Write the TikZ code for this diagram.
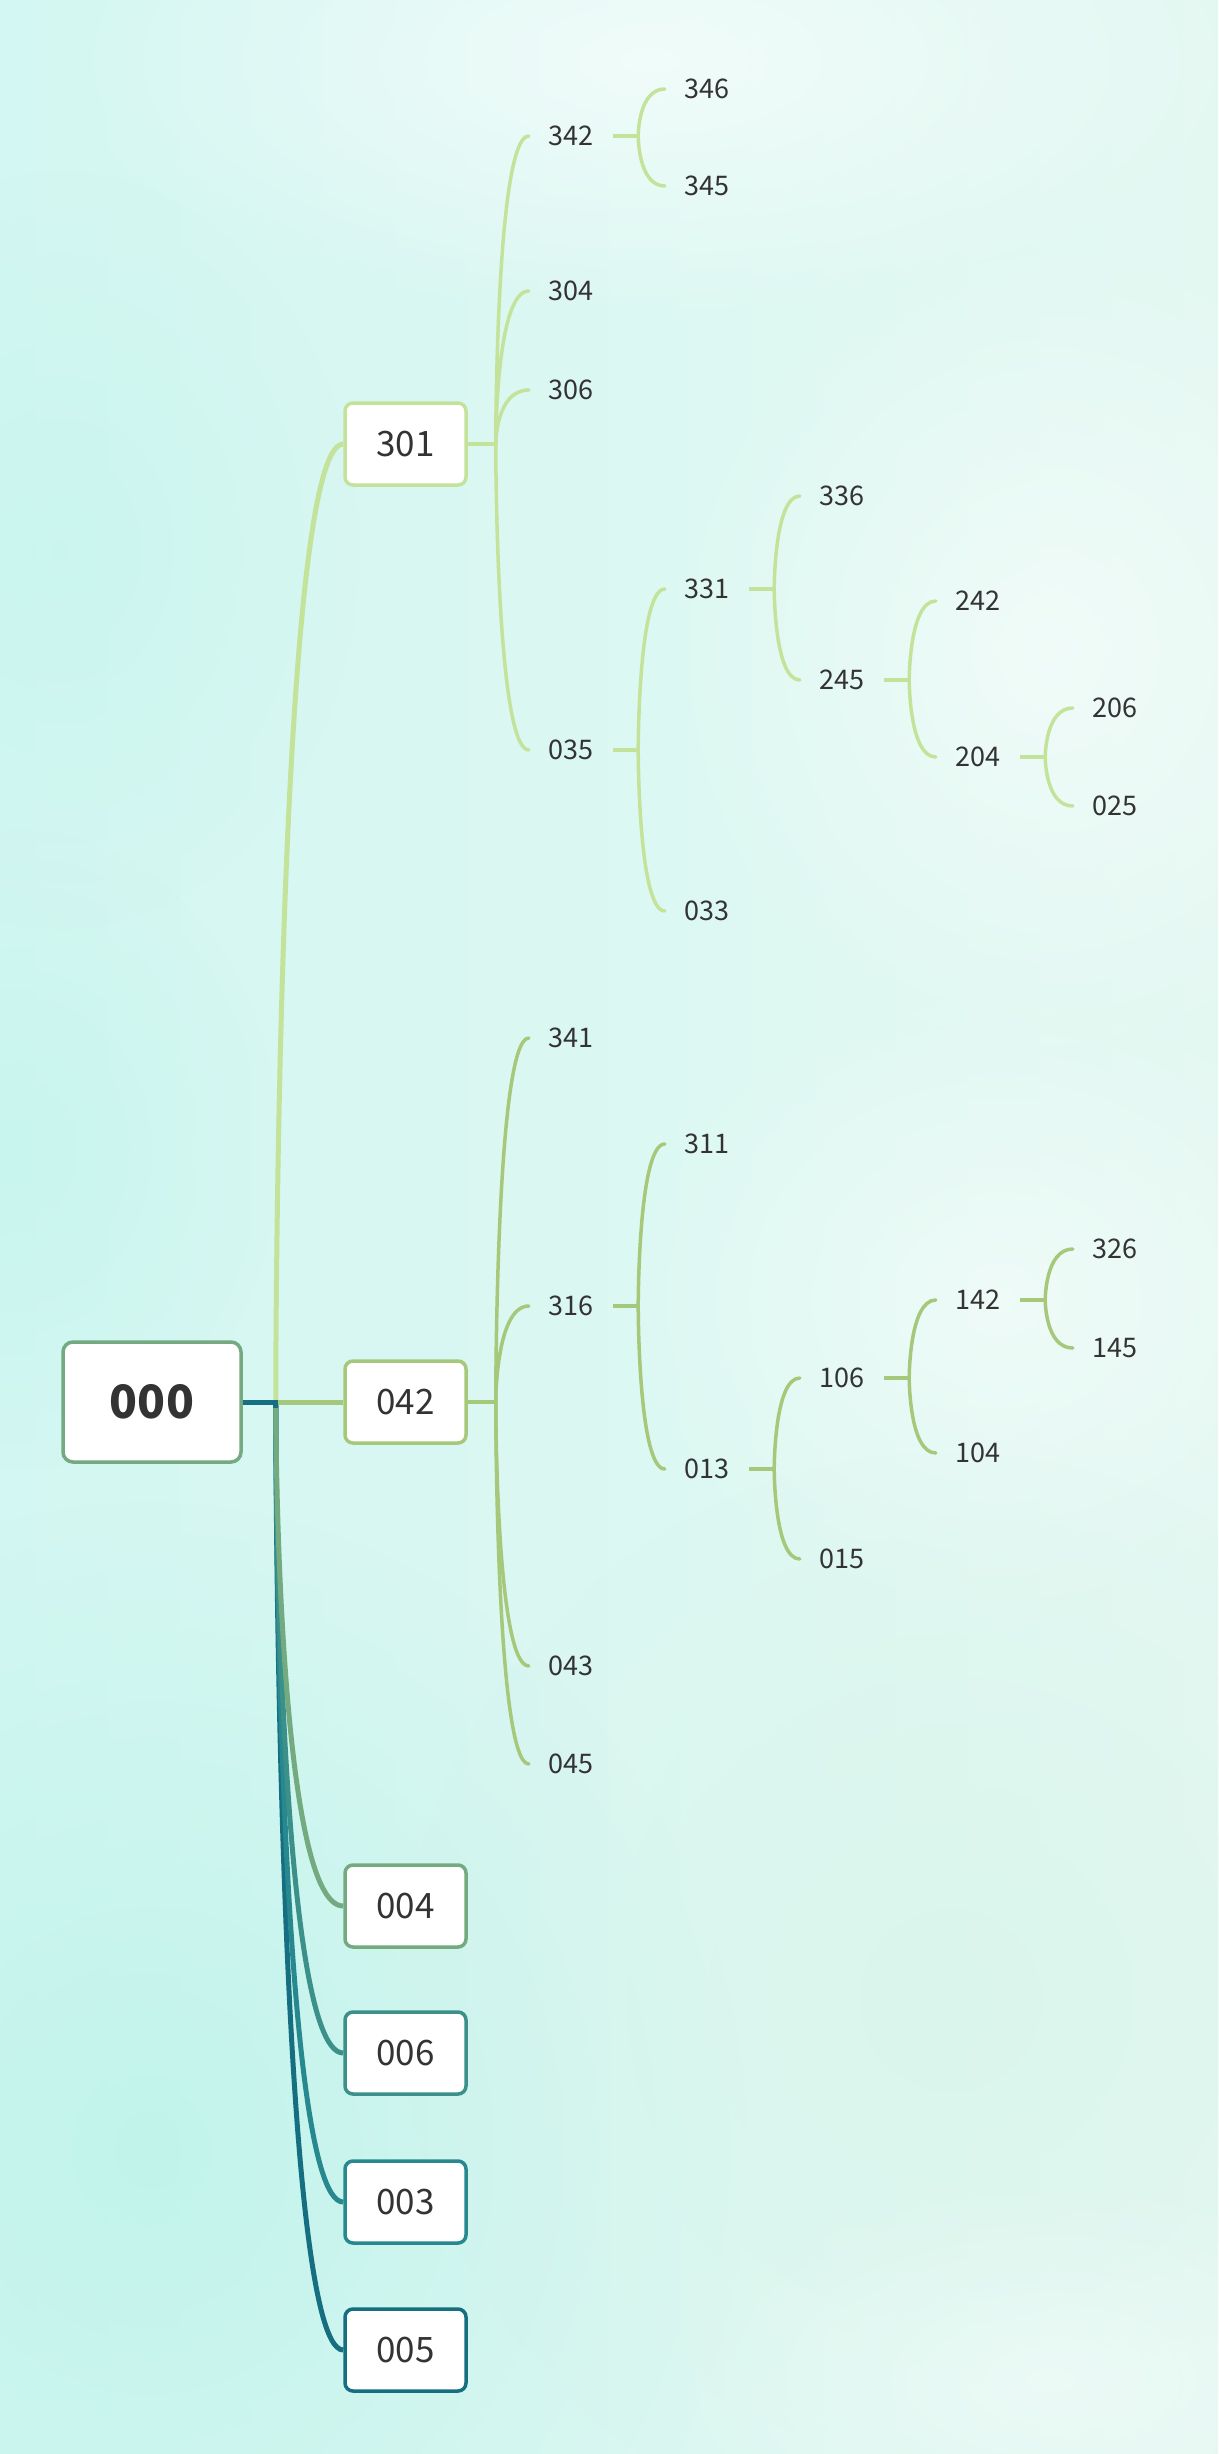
\documentclass[tikz,border=0pt]{standalone}
\usepackage{fontspec}
\setmainfont{Noto Sans CJK SC}
\usetikzlibrary{calc,fadings}
\tikzfading[name=softblob, inner color=transparent!0, outer color=transparent!100]
\definecolor{txt}{HTML}{333333}
\definecolor{cRoot}{HTML}{74A981}
\definecolor{cA}{HTML}{C4E39A}
\definecolor{cB}{HTML}{A6C87A}
\definecolor{cC}{HTML}{74AA80}
\definecolor{cD}{HTML}{3B9089}
\definecolor{cE}{HTML}{28888F}
\definecolor{cF}{HTML}{166F80}
\definecolor{bgL}{HTML}{D3F7F2}
\definecolor{bgR}{HTML}{E4F8F2}
\definecolor{bgCyan}{HTML}{BDF3EA}
\definecolor{bgMint}{HTML}{D6F4E8}
\begin{document}
\begin{tikzpicture}[x=1pt,y=-1pt,
  lbl/.style={text=txt, font=\fontsize{27}{27}\selectfont, minimum width=84pt, inner sep=0pt},
  topbox/.style={draw=#1, line width=3.5pt, rounded corners=8pt, fill=white, minimum width=121pt, minimum height=82pt, inner sep=0pt, text=txt, font=\fontsize{35}{35}\selectfont},
  rootbox/.style={draw=cRoot, line width=3.5pt, rounded corners=10pt, fill=white, minimum width=178pt, minimum height=120pt, inner sep=0pt, text=txt, font=\fontsize{46}{46}\selectfont\bfseries},
  mainlink/.style={line width=5pt, draw=#1},
  sublink/.style={line width=3.5pt, draw=#1, line cap=round},
  blob/.style={fill=#1, path fading=softblob}
]
\useasboundingbox (0,0) rectangle (1218,2454);
% background
\shade[left color=bgL, right color=bgR] (0,0) rectangle (1218,2454);
\fill[blob=white, opacity=0.6] (650,60) ellipse (600pt and 260pt);
\fill[blob=white, opacity=0.5] (1050,650) ellipse (380pt and 420pt);
\fill[blob=white, opacity=0.45] (1000,1300) ellipse (380pt and 320pt);
\fill[blob=bgCyan, opacity=0.8] (150,2150) ellipse (600pt and 650pt);
\fill[blob=bgCyan, opacity=0.5] (20,1150) ellipse (260pt and 320pt);
\fill[blob=bgCyan, opacity=0.4] (60,550) ellipse (300pt and 380pt);
\fill[blob=bgMint, opacity=0.6] (950,2000) ellipse (550pt and 550pt);
\fill[blob=white, opacity=0.4] (1050,2380) ellipse (380pt and 200pt);

% nodes
\node[rootbox] (n000) at (152,1402) {000};
\node[topbox=cA] (n301) at (405.5,444) {301};
\node[topbox=cB] (n042) at (405.5,1402) {042};
\node[topbox=cC] (n004) at (405.5,1906) {004};
\node[topbox=cD] (n006) at (405.5,2053) {006};
\node[topbox=cE] (n003) at (405.5,2202) {003};
\node[topbox=cF] (n005) at (405.5,2350) {005};

\foreach \n/\x/\y in {342/571/136, 304/571/291, 306/571/390, 035/571/750,
  341/571/1038, 316/571/1306, 043/571/1666, 045/571/1764,
  346/707/89, 345/707/186, 331/707/589, 033/707/911, 311/707/1144, 013/707/1469,
  336/842/496, 245/842/680, 106/842/1378, 015/842/1559,
  242/978/601, 204/978/757, 142/978/1300, 104/978/1453,
  206/1115/708, 025/1115/806, 326/1115/1249, 145/1115/1348}
  \node[lbl] (n\n) at (\x,\y) {\n};

% root connectors
\coordinate (jr) at ($(n000.east)+(33,0)$);
\foreach \c/\col in {n005/cF, n003/cE, n006/cD, n004/cC, n301/cA}
  \draw[mainlink=\col] (jr) .. controls (jr) and (jr |- \c.west) .. (\c.west);
\draw[mainlink=cB] (jr) -- (n042.west);
\draw[mainlink=cF] (n000.east) -- (jr) -- ++(0,6);

% box subtrees
\coordinate (j301) at ($(n301.east)+(28,0)$);
\draw[sublink=cA, line cap=butt] (n301.east) -- (j301);
\foreach \c in {342,304,306,035}
  \draw[sublink=cA] (j301) .. controls (j301) and (j301 |- n\c.west) .. (n\c.west);
\coordinate (j042) at ($(n042.east)+(28,0)$);
\draw[sublink=cB, line cap=butt] (n042.east) -- (j042);
\foreach \c in {341,316,043,045}
  \draw[sublink=cB] (j042) .. controls (j042) and (j042 |- n\c.west) .. (n\c.west);

% label subtrees
\foreach \p/\col/\kids in {342/cA/{346,345}, 035/cA/{331,033}, 331/cA/{336,245},
   245/cA/{242,204}, 204/cA/{206,025},
   316/cB/{311,013}, 013/cB/{106,015}, 106/cB/{142,104}, 142/cB/{326,145}} {
  \coordinate (j\p) at ($(n\p.east)+(25,0)$);
  \draw[sublink=\col, line cap=butt] (n\p.east) -- (j\p);
  \foreach \c in \kids
    \draw[sublink=\col] (j\p) .. controls (j\p) and (j\p |- n\c.west) .. (n\c.west);
}
\end{tikzpicture}
\end{document}
